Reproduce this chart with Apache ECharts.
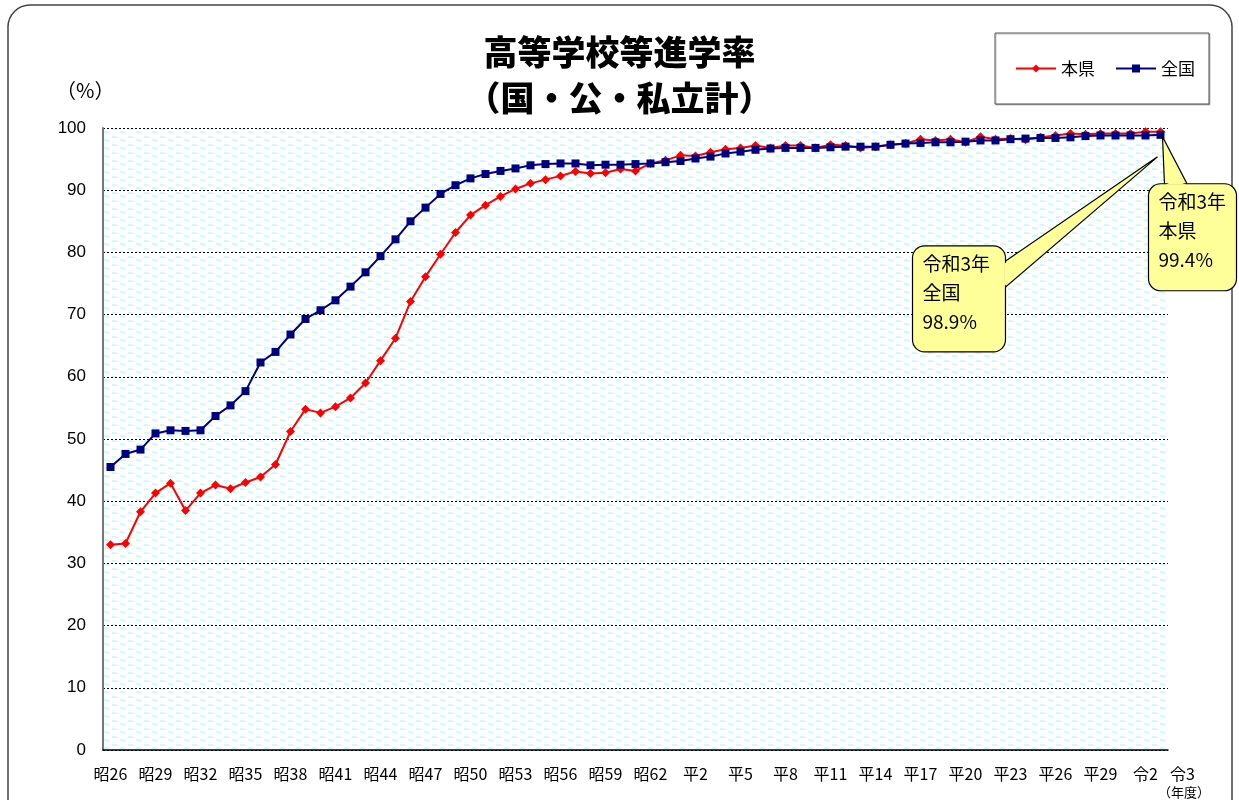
<!DOCTYPE html>
<html>
<head>
<meta charset="utf-8">
<script src="https://cdn.jsdelivr.net/npm/echarts@6/dist/echarts.min.js"></script>
<style>
  html, body { margin: 0; padding: 0; background: #fff; }
  #chart { width: 1239px; height: 800px; }
</style>
</head>
<body>
<div id="chart"></div>
<script>
// 年度（昭26〜令3）
const years = [
  '昭26','昭27','昭28','昭29','昭30','昭31','昭32','昭33','昭34','昭35',
  '昭36','昭37','昭38','昭39','昭40','昭41','昭42','昭43','昭44','昭45',
  '昭46','昭47','昭48','昭49','昭50','昭51','昭52','昭53','昭54','昭55',
  '昭56','昭57','昭58','昭59','昭60','昭61','昭62','昭63',
  '平1','平2','平3','平4','平5','平6','平7','平8','平9','平10',
  '平11','平12','平13','平14','平15','平16','平17','平18','平19','平20',
  '平21','平22','平23','平24','平25','平26','平27','平28','平29','平30',
  '令1','令2','令3'
];

// 本県
const kenRate = [
  33.0, 33.2, 38.3, 41.3, 42.9, 38.5, 41.3, 42.6, 42.0, 43.0,
  43.9, 45.9, 51.2, 54.8, 54.2, 55.2, 56.6, 59.0, 62.6, 66.2,
  72.1, 76.1, 79.7, 83.2, 86.0, 87.6, 89.0, 90.2, 91.1, 91.7,
  92.3, 93.0, 92.7, 92.8, 93.4, 93.1, 94.3, 94.8,
  95.6, 95.5, 96.1, 96.6, 96.8, 97.2, 96.8, 97.2, 97.2, 96.8,
  97.3, 97.2, 96.8, 97.0, 97.3, 97.5, 98.2, 98.0, 98.2, 97.7,
  98.6, 98.2, 98.3, 98.1, 98.5, 98.8, 99.1, 99.0, 99.1, 99.1,
  99.1, 99.4, 99.4
];

// 全国
const zenkokuRate = [
  45.5, 47.6, 48.3, 50.9, 51.4, 51.3, 51.4, 53.7, 55.4, 57.7,
  62.3, 64.0, 66.8, 69.3, 70.7, 72.3, 74.5, 76.8, 79.4, 82.1,
  85.0, 87.2, 89.4, 90.8, 91.9, 92.6, 93.1, 93.5, 94.0, 94.2,
  94.3, 94.3, 94.0, 94.1, 94.1, 94.2, 94.3, 94.5,
  94.7, 95.1, 95.4, 95.9, 96.2, 96.5, 96.7, 96.8, 96.8, 96.8,
  96.9, 97.0, 97.0, 97.0, 97.3, 97.5, 97.6, 97.7, 97.7, 97.8,
  98.0, 98.0, 98.2, 98.3, 98.4, 98.4, 98.5, 98.7, 98.8, 98.8,
  98.8, 98.8, 98.9
];

const FONT = '"Noto Sans CJK JP", "Noto Sans", sans-serif';
const lastIdx = years.length - 1;

// 背景の波模様
const tile = document.createElement('canvas');
tile.width = 16;
tile.height = 8;
const tctx = tile.getContext('2d');
tctx.fillStyle = '#ffffff';
tctx.fillRect(0, 0, 16, 8);
tctx.fillStyle = '#c8fcfe';
tctx.fillRect(0, 0, 4, 2);
tctx.fillRect(4, 1, 2, 1);
tctx.fillRect(8, 3, 4, 2);
tctx.fillRect(12, 4, 2, 1);

const myChart = echarts.init(document.getElementById('chart'));

const option = {
  backgroundColor: '#ffffff',
  animation: false,
  textStyle: { fontFamily: FONT },
  title: {
    text: '高等学校等進学率\n（国・公・私立計）',
    left: 'center',
    top: 24,
    textStyle: {
      fontFamily: FONT,
      fontSize: 34,
      fontWeight: 900,
      color: '#000',
      lineHeight: 46
    }
  },
  legend: {
    data: ['本県', '全国'],
    left: 995,
    top: 33,
    width: 213,
    padding: [27, 14, 27, 20],
    itemWidth: 40,
    itemHeight: 10,
    itemGap: 20,
    borderColor: '#555',
    borderWidth: 1,
    backgroundColor: '#fff',
    shadowColor: 'rgba(0,0,0,0.25)',
    shadowOffsetX: 1,
    shadowOffsetY: 1,
    textStyle: { fontFamily: FONT, fontSize: 17, color: '#000' }
  },
  grid: {
    left: 103,
    right: 71,
    top: 128,
    bottom: 50,
    show: true,
    borderWidth: 0,
    backgroundColor: { image: tile, repeat: 'repeat' }
  },
  xAxis: {
    type: 'category',
    data: years,
    boundaryGap: true,
    axisLine: { lineStyle: { color: '#000', width: 1.5 } },
    axisTick: { inside: true, length: 4, interval: 0, lineStyle: { color: '#000' } },
    axisLabel: {
      interval: (i) => i % 3 === 0 || i === lastIdx,
      margin: 16,
      fontSize: 16,
      color: '#000',
      fontFamily: FONT,
      formatter: (v, i) => (i === lastIdx ? '{r|' + v + '}' : v),
      rich: { r: { padding: [0, 0, 0, 44], fontSize: 16, color: '#000', fontFamily: FONT } }
    }
  },
  yAxis: {
    type: 'value',
    min: 0,
    max: 100,
    interval: 10,
    axisLine: { show: true, lineStyle: { color: '#777', width: 2 } },
    axisTick: { show: false },
    axisLabel: { margin: 17, fontSize: 17, color: '#000', fontFamily: '"Liberation Sans", Arial, sans-serif' },
    splitLine: { lineStyle: { color: '#000', type: [2, 2], width: 1 } }
  },
  series: [
    {
      name: '本県',
      type: 'line',
      data: kenRate,
      symbol: 'diamond',
      symbolSize: 9,
      itemStyle: { color: '#ff0000' },
      lineStyle: { color: '#ff0000', width: 2 },
      z: 3
    },
    {
      name: '全国',
      type: 'line',
      data: zenkokuRate,
      symbol: 'rect',
      symbolSize: 8,
      itemStyle: { color: '#000080' },
      lineStyle: { color: '#000080', width: 2 },
      z: 4
    }
  ]
};
myChart.setOption(option);

// 吹き出し
const pk = myChart.convertToPixel({ seriesIndex: 0 }, [lastIdx, kenRate[lastIdx]]);
const pz = myChart.convertToPixel({ seriesIndex: 1 }, [lastIdx, zenkokuRate[lastIdx]]);
const bubbleStyle = { fill: '#ffff99', stroke: '#000', lineWidth: 1.2 };

function bubble(box, wedge, lines) {
  const els = [];
  els.push({ type: 'polygon', shape: { points: wedge }, style: bubbleStyle, z: 10 });
  els.push({ type: 'rect', shape: { x: box.x, y: box.y, width: box.w, height: box.h, r: 12 }, style: bubbleStyle, z: 11 });
  els.push({ type: 'polygon', shape: { points: [
    [wedge[0][0] + (wedge[1][0] - wedge[0][0]) * 0.04, wedge[0][1] + (wedge[1][1] - wedge[0][1]) * 0.04],
    [wedge[1][0] + (wedge[0][0] - wedge[1][0]) * 0.04, wedge[1][1] + (wedge[0][1] - wedge[1][1]) * 0.04],
    [(wedge[0][0] + wedge[1][0]) / 2 * 0.9 + wedge[2][0] * 0.1, (wedge[0][1] + wedge[1][1]) / 2 * 0.9 + wedge[2][1] * 0.1]
  ] }, style: { fill: '#ffff99' }, z: 12 });
  lines.forEach((t, i) => {
    els.push({
      type: 'text', x: box.x + 10, y: box.y + 18 + i * 29, z: 13,
      style: { text: t, fontSize: 19, fontFamily: FONT, fill: '#000', textVerticalAlign: 'middle' }
    });
  });
  return els;
}

const kx = pk[0], ky = pk[1];
const zx = pz[0], zy = pz[1];
const kenBox = { x: kx - 12, y: ky + 52, w: 88, h: 107 };
const zenBox = { x: zx - 248, y: zy + 111, w: 93, h: 106 };

const graphics = []
  .concat(bubble(kenBox,
    [[kx + 4, kenBox.y + 1], [kx + 27, kenBox.y + 1], [kx + 2, ky + 5]],
    ['令和3年', '本県', '99.4%']))
  .concat(bubble(zenBox,
    [[zenBox.x + zenBox.w - 1, zenBox.y + 16], [zenBox.x + zenBox.w - 1, zenBox.y + 42], [zx - 3, zy + 22]],
    ['令和3年', '全国', '98.9%']));

graphics.push(
  { type: 'rect', shape: { x: 8, y: 5, width: 1224, height: 820, r: 22 }, style: { fill: null, stroke: '#444', lineWidth: 1.5 }, z: 1, silent: true },
  { type: 'text', x: 56, y: 90, style: { text: '（%）', fontSize: 20, fontFamily: FONT, fill: '#000', textVerticalAlign: 'middle' }, z: 5 },
  { type: 'text', x: 1158, y: 792, style: { text: '（年度）', fontSize: 13, fontFamily: FONT, fill: '#000', textVerticalAlign: 'middle' }, z: 5 }
);

myChart.setOption({ graphic: { elements: graphics } });
</script>
</body>
</html>
